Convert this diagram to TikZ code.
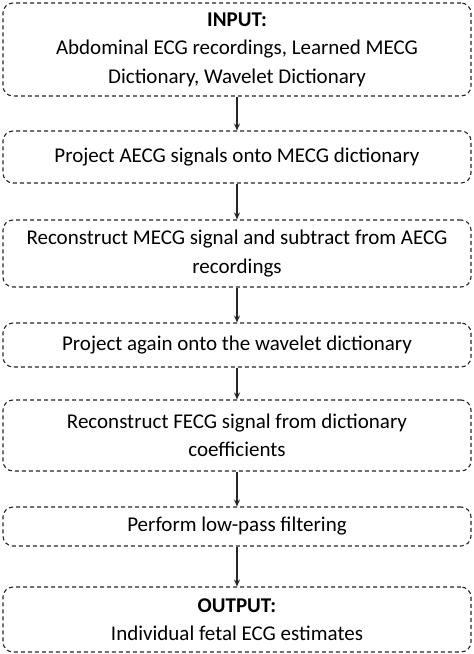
\documentclass[tikz,border=0pt]{standalone}
\usepackage{fontspec}
\setmainfont{Carlito}
\usepackage{tikz}
\usetikzlibrary{arrows.meta}
\tikzset{%
  tipA/.tip={Stealth[length=7pt,width=6pt]},
  stepbox/.style={draw=black!85, line width=1.1pt, dash pattern=on 4pt off 3pt,
    rounded corners=10pt, minimum width=468pt, align=center,
    font=\fontsize{21}{28.5}\selectfont, inner sep=0pt},
  flow/.style={black!85, line width=1.1pt, -tipA}
}

\begin{document}
\begin{tikzpicture}[x=1pt,y=1pt]
\useasboundingbox (0,0) rectangle (474,-654);
\node[stepbox, minimum height=93pt] (inp) at (237,-49.5) {\textbf{INPUT:}\\Abdominal ECG recordings, Learned MECG\\Dictionary, Wavelet Dictionary};
\node[stepbox, minimum height=52pt] (proj) at (237,-157) {Project AECG signals onto MECG dictionary};
\node[stepbox, minimum height=67pt] (recm) at (237,-253.5) {Reconstruct MECG signal and subtract from AECG\\recordings};
\node[stepbox, minimum height=44pt] (projw) at (237,-345) {Project again onto the wavelet dictionary};
\node[stepbox, minimum height=71pt] (recf) at (237,-435.5) {Reconstruct FECG signal from dictionary\\coefficients};
\node[stepbox, minimum height=39pt] (lpf) at (237,-526.5) {Perform low-pass filtering};
\node[stepbox, minimum height=65pt] (outp) at (237,-619.5) {\textbf{OUTPUT:}\\Individual fetal ECG estimates};
%\draw arrows between steps
\draw[flow] (inp) -- (proj);
\draw[flow] (proj) -- (recm);
\draw[flow] (recm) -- (projw);
\draw[flow] (projw) -- (recf);
\draw[flow] (recf) -- (lpf);
\draw[flow] (lpf) -- (outp);
\end{tikzpicture}
\end{document}
